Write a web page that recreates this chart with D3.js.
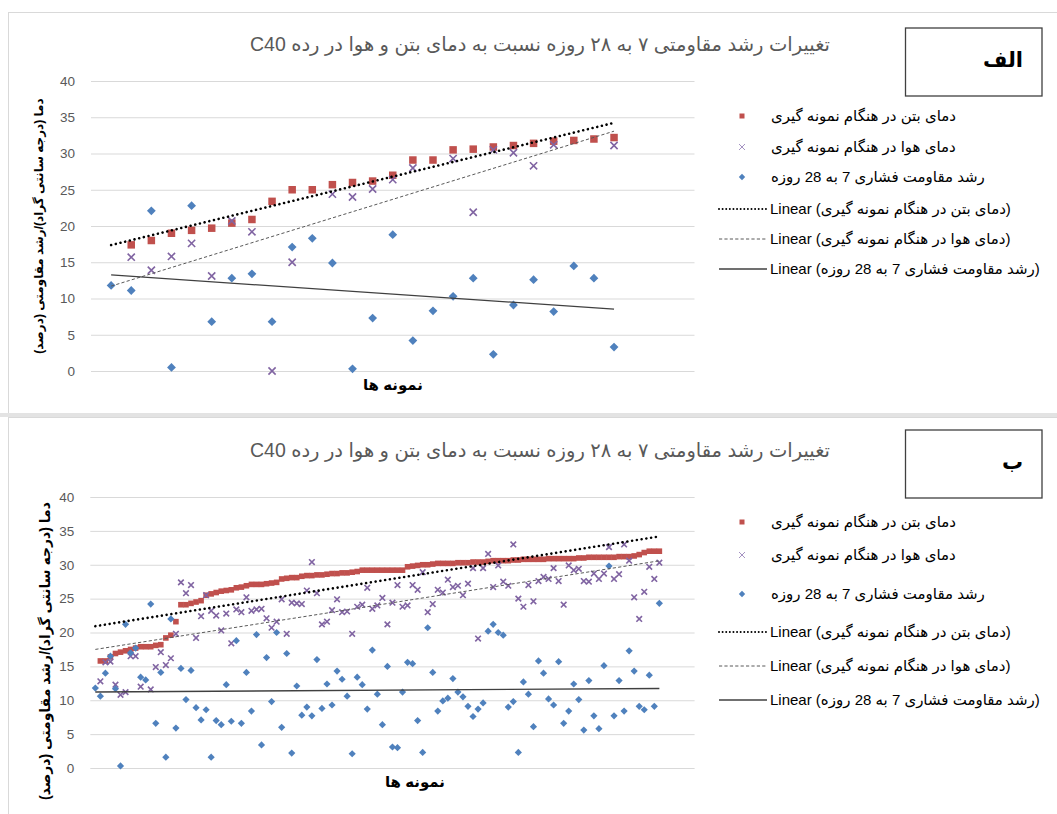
<!DOCTYPE html>
<html><head><meta charset="utf-8">
<script src="https://cdn.jsdelivr.net/npm/d3@7"></script>
<style>body{margin:0;background:#fff} svg{display:block}</style>
</head><body>
<svg id="chart" width="1057" height="814"></svg>
<script>
// ---------- DATA ----------
const titleText = "تغییرات رشد مقاومتی ۷ به ۲۸ روزه نسبت به دمای بتن و هوا در رده C40";
const yAxisLabel = "دما (درجه سانتی گراد)/رشد مقاومتی (درصد)";
const xAxisLabel = "نمونه ها";
const seriesNames = ["دمای بتن در هنگام نمونه گیری", "دمای هوا در هنگام نمونه گیری", "رشد مقاومت فشاری 7 به 28 روزه"];
const trendPrefix = "Linear";
const panelLabels = ["الف", "ب"];
const yTicks = [0, 5, 10, 15, 20, 25, 30, 35, 40];
const xMaxA = 30, xMaxB = 120;

// Panel A: 26 samples
const concreteA = [null,17.4,18.0,19.0,19.4,19.7,20.4,20.9,23.4,25.0,25.0,25.7,26.0,26.2,27.0,29.1,29.1,30.5,30.6,30.9,31.1,31.4,31.7,31.8,32.0,32.2];
const airA      = [null,15.7,13.9,15.8,17.6,13.1,20.7,19.2,0.0,15.0,null,24.4,24.0,25.1,26.4,28.0,null,29.3,21.9,30.5,30.1,28.3,31.2,null,null,31.1];
const growthA   = [11.8,11.1,22.1,0.5,22.8,6.8,12.8,13.4,6.8,17.1,18.3,14.9,0.3,7.3,18.8,4.2,8.3,10.3,12.8,2.3,9.1,12.6,8.2,14.5,12.8,3.3];

// Panel B: 113 samples
const concreteB = [null,15.8,15.8,16.4,16.9,17.1,17.3,17.5,17.7,17.9,
  17.9,17.9,18.1,18.2,19.2,19.6,21.6,24.1,24.1,24.3,
  24.5,24.7,25.5,25.7,25.9,26.1,26.2,26.3,26.6,26.7,
  26.9,27.1,27.1,27.1,27.2,27.3,27.4,27.9,28.0,28.1,
  28.1,28.3,28.4,28.4,28.5,28.5,28.6,28.7,28.7,28.8,
  28.8,28.9,29.0,29.2,29.2,29.2,29.2,29.2,29.2,29.2,
  29.2,29.2,29.7,29.8,29.9,30.0,30.0,30.1,30.2,30.2,
  30.2,30.2,30.3,30.3,30.3,30.4,30.4,30.4,30.5,30.6,
  30.6,30.6,30.6,30.7,30.7,30.8,30.8,30.8,30.8,30.8,
  30.9,30.9,30.9,30.9,30.9,30.9,31.0,31.0,31.1,31.1,
  31.1,31.1,31.1,31.1,31.2,31.2,31.2,31.3,31.5,31.8,
  32.0,32.0,32.0];
const airB = [null,12.8,15.6,15.7,12.3,10.8,11.2,16.5,16.5,12.0,
  null,11.6,14.9,17.1,15.2,16.2,19.8,27.4,25.8,27.0,
  19.2,22.4,25.5,23.2,22.5,20.3,22.8,18.4,23.4,23.0,
  25.2,23.2,23.4,23.5,22.1,20.7,21.6,24.9,19.8,24.4,
  24.3,24.2,26.2,30.4,25.8,21.2,21.6,23.3,24.9,23.0,
  23.1,19.8,23.8,24.1,26.6,23.5,24.0,25.1,21.2,24.4,
  27.0,23.8,24.0,27.0,26.3,28.9,23.0,24.2,26.3,25.9,
  27.8,26.7,26.9,25.5,27.2,29.5,19.1,29.5,31.6,26.7,
  29.9,27.5,26.9,33.0,25.0,23.8,27.0,24.6,27.6,28.2,
  27.9,29.5,27.6,24.1,29.9,29.2,29.4,27.6,27.5,28.7,
  27.9,28.7,32.6,27.9,28.6,33.0,30.6,25.2,22.0,26.0,
  29.7,27.9,30.3];
const growthB = [11.8,10.6,14.0,16.5,11.7,0.3,21.2,17.0,17.7,13.4,
  13.0,24.2,6.6,14.1,1.6,22.0,5.9,14.7,10.1,14.4,
  8.9,7.1,8.6,1.6,7.0,6.4,12.3,6.9,18.8,6.6,
  14.1,8.4,19.7,3.4,16.3,9.8,20.0,6.0,16.9,2.2,
  12.1,7.8,9.0,7.7,16.0,8.8,12.4,9.3,14.3,13.1,
  10.6,2.1,13.4,12.3,8.7,17.4,10.9,6.4,15.0,3.1,
  3.0,11.2,15.6,15.4,7.0,2.3,20.7,14.1,8.4,9.9,
  10.3,13.2,11.2,10.5,9.1,7.6,8.7,9.6,20.2,21.2,
  20.0,19.6,9.0,9.8,2.3,12.7,10.9,6.1,15.8,14.0,
  10.2,9.3,15.7,6.6,8.4,12.4,10.1,5.6,12.9,7.7,
  5.8,15.1,29.8,7.7,12.9,8.4,17.3,14.3,9.1,8.6,
  13.7,9.1,24.3];

// ---------- STYLE ----------
const C_RED = "#C0504D", C_PURPLE = "#8064A2", C_BLUE = "#4F81BD";
const FONT = "'Liberation Sans', 'DejaVu Sans', sans-serif";
const svg = d3.select("#chart");

// panel frames
svg.append("rect").attr("x", 8.5).attr("y", 12.5).attr("width", 1060).attr("height", 401)
  .attr("fill", "none").attr("stroke", "#d9d9d9");
svg.append("rect").attr("x", 0).attr("y", 413).attr("width", 1057).attr("height", 4).attr("fill", "#e3e3e3");
svg.append("rect").attr("x", 8.5).attr("y", 417.5).attr("width", 1060).attr("height", 410)
  .attr("fill", "none").attr("stroke", "#d9d9d9");

function linreg(vals) {
  const pts = vals.map((v, i) => [i + 1, v]).filter(p => p[1] != null);
  const mx = d3.mean(pts, p => p[0]), my = d3.mean(pts, p => p[1]);
  let sxy = 0, sxx = 0;
  pts.forEach(p => { sxy += (p[0] - mx) * (p[1] - my); sxx += (p[0] - mx) ** 2; });
  const b = sxy / sxx;
  return { a: my - b * mx, b };
}

function diamondPath(r) { return `M0,${-r}L${r},0L0,${r}L${-r},0Z`; }
function crossPath(r) { return `M${-r},${-r}L${r},${r}M${-r},${r}L${r},${-r}`; }

function drawPanel(cfg) {
  const g = svg.append("g");
  const x = d3.scaleLinear().domain([0, cfg.xMax]).range([cfg.left, cfg.right]);
  const y = d3.scaleLinear().domain([0, 40]).range([cfg.bottom, cfg.top]);

  // title
  g.append("text").attr("x", 540).attr("y", cfg.titleY).attr("text-anchor", "middle")
    .attr("direction", "rtl").style("font-family", FONT).style("font-size", "19.5px")
    .attr("fill", "#595959").text(titleText);

  // label box
  g.append("rect").attr("x", 905.5).attr("y", cfg.boxY + 0.5).attr("width", 136.5).attr("height", 68)
    .attr("fill", "#fff").attr("stroke", "#404040").attr("stroke-width", 1.3);
  g.append("text").attr("x", 1023).attr("y", cfg.boxY + 39).attr("text-anchor", "end")
    .style("font-family", FONT).style("font-size", "21px").style("font-weight", "bold")
    .attr("fill", "#000").text(cfg.label);

  // y axis + gridlines
  const ax = g.append("g").attr("transform", `translate(${cfg.left},0)`)
    .call(d3.axisLeft(y).tickValues(yTicks).tickSize(-(cfg.right - cfg.left)).tickPadding(16));
  ax.select(".domain").remove();
  ax.selectAll(".tick line").attr("stroke", "#d9d9d9");
  ax.selectAll(".tick text").attr("fill", "#595959").style("font-family", FONT).style("font-size", "13.5px");

  // axis labels
  g.append("text").attr("x", cfg.xLabelX).attr("y", cfg.xLabelY).attr("text-anchor", "middle")
    .style("font-family", FONT).style("font-size", "15px").style("font-weight", "bold").text(xAxisLabel);
  g.append("text").attr("transform", `translate(${cfg.yLabelX},${cfg.yLabelY}) rotate(-90)`)
    .attr("text-anchor", "middle").attr("direction", "rtl")
    .style("font-family", FONT).style("font-size", cfg.yLabelSize).style("font-weight", "bold").text(yAxisLabel);

  const pts = arr => arr.map((v, i) => ({ i: i + 1, v })).filter(d => d.v != null);

  // series 1: squares
  g.append("g").selectAll("rect").data(pts(cfg.concrete)).join("rect")
    .attr("x", d => x(d.i) - cfg.sq / 2).attr("y", d => y(d.v) - cfg.sq / 2)
    .attr("width", cfg.sq).attr("height", cfg.sq).attr("fill", C_RED);
  // series 2: crosses
  g.append("g").selectAll("path").data(pts(cfg.air)).join("path")
    .attr("transform", d => `translate(${x(d.i)},${y(d.v)})`)
    .attr("d", crossPath(cfg.cr)).attr("stroke", C_PURPLE).attr("stroke-width", 1.6).attr("fill", "none");
  // series 3: diamonds
  g.append("g").selectAll("path").data(pts(cfg.growth)).join("path")
    .attr("transform", d => `translate(${x(d.i)},${y(d.v)})`)
    .attr("d", diamondPath(cfg.dm)).attr("fill", C_BLUE);

  // trendlines
  const n = cfg.growth.length;
  const trends = [
    { vals: cfg.concrete, stroke: "#000", w: 2.6, dash: "0.01 4.8", cap: "round" },
    { vals: cfg.air, stroke: "#595959", w: 1, dash: "3.2 2.2", cap: "butt" },
    { vals: cfg.growth, stroke: "#404040", w: 1.3, dash: null, cap: "butt" }
  ];
  trends.forEach(t => {
    const r = linreg(t.vals);
    g.append("line").attr("x1", x(1)).attr("y1", y(r.a + r.b))
      .attr("x2", x(n)).attr("y2", y(r.a + r.b * n))
      .attr("stroke", t.stroke).attr("stroke-width", t.w)
      .attr("stroke-dasharray", t.dash).attr("stroke-linecap", t.cap);
  });

  // legend
  const lg = g.append("g").style("font-family", FONT).style("font-size", "15px");
  const ly = cfg.legendY;
  lg.append("rect").attr("x", 742 - 2.5).attr("y", ly[0] - 2.5).attr("width", 5).attr("height", 5).attr("fill", C_RED);
  lg.append("path").attr("transform", `translate(742,${ly[1]})`).attr("d", crossPath(3))
    .attr("stroke", "#a593c2").attr("stroke-width", 1).attr("fill", "none");
  lg.append("path").attr("transform", `translate(742,${ly[2]})`).attr("d", diamondPath(3.2)).attr("fill", C_BLUE);
  seriesNames.forEach((s, k) => {
    lg.append("text").attr("x", 771).attr("y", ly[k] + 5).text(s);
  });
  trends.forEach((t, k) => {
    lg.append("line").attr("x1", 719).attr("x2", 767).attr("y1", ly[3 + k]).attr("y2", ly[3 + k])
      .attr("stroke", t.stroke).attr("stroke-width", k === 0 ? 2 : t.w)
      .attr("stroke-dasharray", k === 0 ? "0.01 3.6" : t.dash).attr("stroke-linecap", t.cap);
    lg.append("text").attr("x", 770).attr("y", ly[3 + k] + 5).text(trendPrefix + " (" + seriesNames[k] + ")");
  });
}

drawPanel({
  xMax: xMaxA, left: 91, right: 694.5, top: 81, bottom: 371,
  concrete: concreteA, air: airA, growth: growthA,
  sq: 7.5, cr: 3.6, dm: 4.4,
  titleY: 51, boxY: 27.5, label: panelLabels[0],
  xLabelX: 393, xLabelY: 390, yLabelX: 43, yLabelY: 226, yLabelSize: "12px",
  legendY: [116, 147, 177, 209, 239, 269]
});
drawPanel({
  xMax: xMaxB, left: 90.3, right: 694.6, top: 497, bottom: 768,
  concrete: concreteB, air: airB, growth: growthB,
  sq: 5.6, cr: 2.8, dm: 3.6,
  titleY: 457, boxY: 429.5, label: panelLabels[1],
  xLabelX: 415, xLabelY: 787, yLabelX: 50, yLabelY: 651, yLabelSize: "14px",
  legendY: [522, 555, 594, 632, 666, 700]
});
</script>
</body></html>
